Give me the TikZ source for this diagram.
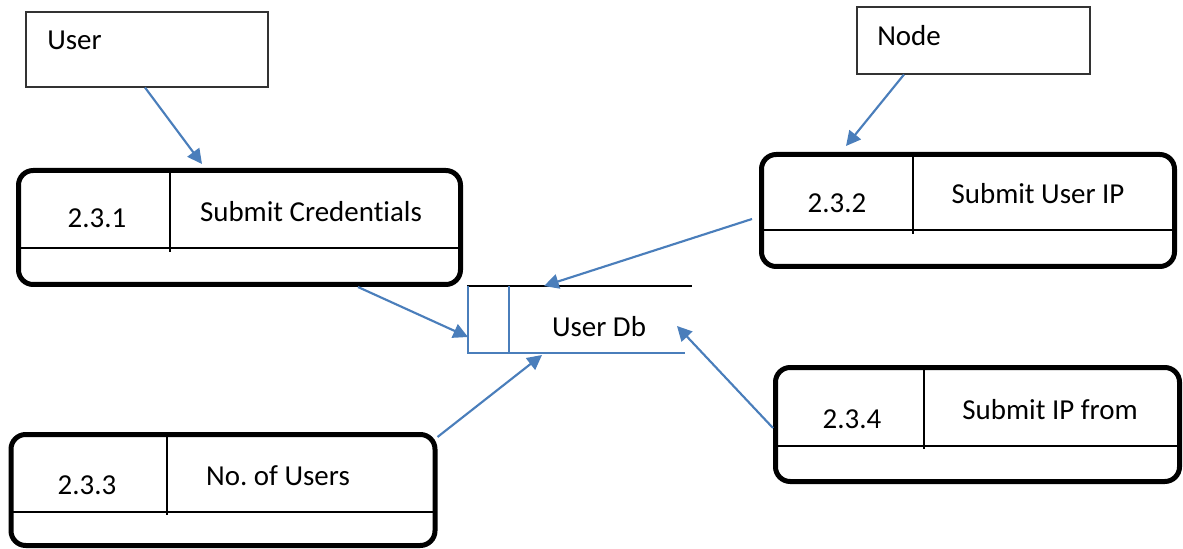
\documentclass[tikz,border=0pt]{standalone}
\usepackage{fontspec}
\setmainfont[Ligatures={NoCommon}]{Carlito}
\usetikzlibrary{arrows.meta,fit,calc}
\definecolor{flowblue}{HTML}{4A7EBB}
\frenchspacing
\tikzset{
  proc/.style={draw, line width=3.75pt, rounded corners=11pt, inner sep=0pt},
  ent/.style={draw=black!80, line width=0.8pt, inner sep=0pt},
  rulebk/.style={line width=1.1pt},
  lbl/.style={font=\fontsize{21.7pt}{26pt}\selectfont\frenchspacing, inner sep=0pt},
  flow/.style={draw=flowblue, line width=1.6pt, -{Triangle[length=11pt,width=11pt]}},
  storeln/.style={draw=flowblue, line width=1.1pt}
}
\begin{document}
\begin{tikzpicture}[x=0.75pt,y=-0.75pt]
\useasboundingbox (0,0) rectangle (1183,549);

% external entities
\node[ent, fit={(26,12) (268,87)}] (u) {};
\node[lbl, anchor=base west] (utxt) at (47,50) {User};
\node[ent, fit={(857,7) (1090,74)}] (n) {};
\node[lbl, anchor=base west] (ntxt) at (877,46) {Node};

% process 2.3.1
\node[proc, fit={(18.5,170.5) (460.5,284.5)}] (p231) {};
\draw[rulebk] (170,170.5) -- (170,252);
\draw[rulebk] (18.5,248) -- (460.5,248);
\node[lbl, anchor=base] (p231id) at (97,228) {2.3.1};
\node[lbl, anchor=base] (p231nm) at (311,222) {Submit Credentials};

% process 2.3.2
\node[proc, fit={(761.5,154.5) (1174.5,266.5)}] (p232) {};
\draw[rulebk] (913,154.5) -- (913,234);
\draw[rulebk] (761.5,230) -- (1174.5,230);
\node[lbl, anchor=base] (p232id) at (837,213) {2.3.2};
\node[lbl, anchor=base] (p232nm) at (1038,204) {Submit User IP};

% process 2.3.3
\node[proc, fit={(11,434.5) (435,545.5)}] (p233) {};
\draw[rulebk] (167,434.5) -- (167,515);
\draw[rulebk] (11,512) -- (435,512);
\node[lbl, anchor=base] (p233id) at (87,494) {2.3.3};
\node[lbl, anchor=base] (p233nm) at (278,485) {No. of Users};

% process 2.3.4
\node[proc, fit={(775.5,367.5) (1179.5,481.5)}] (p234) {};
\draw[rulebk] (924,367.5) -- (924,449);
\draw[rulebk] (775.5,446) -- (1179.5,446);
\node[lbl, anchor=base] (p234id) at (852,428) {2.3.4};
\node[lbl, anchor=base] (p234nm) at (1050,419) {Submit IP from};

% data store
\draw[rulebk] (467,286) -- (692,286);
\draw[storeln] (468,286) -- (468,353) -- (685,353);
\draw[storeln] (509,286) -- (509,353);
\node[lbl, anchor=base] (db) at (599,336) {User Db};
\coordinate (dbtop) at (544,286);
\coordinate (dbleft) at (468,337);
\coordinate (dbbot) at (542,355);
\coordinate (dbright) at (677,326);

% data flows
\draw[flow] (u.south -| 145,0) -- ($(p231.north -| 202,0)+(0,-4)$);
\draw[flow] (n.south -| 904,0) -- ($(p232.north -| 846,0)+(0,-6)$);
\draw[flow] (p231.south -| 358,0) -- (dbleft);
\draw[flow] ($(p232.west)+(-7,8.5)$) -- (dbtop);
\draw[flow] ($(p233.north east)+(0,5)$) -- (dbbot);
\draw[flow] ($(p234.west)+(0,3.5)$) -- (dbright);
\end{tikzpicture}
\end{document}
